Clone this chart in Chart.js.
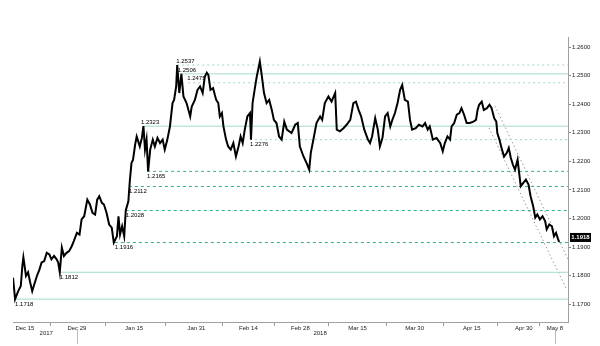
<!DOCTYPE html>
<html>
<head>
<meta charset="utf-8">
<script src="https://cdn.jsdelivr.net/npm/chart.js@4.4.1/dist/chart.umd.min.js"></script>
<style>
    html, body { margin: 0; padding: 0; background: #fff; }
    #wrap { width: 600px; height: 346px; }
</style>
</head>
<body>
<div id="wrap"><canvas id="fxChart"></canvas></div>
<script>
// x = trading days counted from Dec 13 2017
const days = [
    -0.3, 0.1, 0.7, 1.2, 1.5, 1.7, 2.2, 2.6, 3.0, 3.4, 3.8, 4.3, 4.8, 5.2, 5.7, 6.2, 6.7, 7.1, 7.6, 8.1,
    8.4, 8.7, 9.1, 9.5, 10.0, 10.5, 11.0, 11.4, 12.0, 12.5, 12.9, 13.4, 14.0, 14.5, 15.0, 15.5, 15.9, 16.3, 16.8, 17.2,
    17.7, 18.2, 18.7, 19.1, 19.7, 20.0, 20.3, 20.7, 21.1, 21.4, 21.9, 22.2, 22.5, 22.8, 23.2, 23.5, 23.8, 24.1, 24.5, 24.8,
    25.1, 25.4, 25.7, 26.1, 26.6, 27.0, 27.5, 28.0, 28.5, 28.9, 29.4, 29.9, 30.4, 30.7, 31.1, 31.3, 31.7, 32.1, 32.5, 33.1,
    33.8, 34.1, 34.7, 35.2, 35.7, 36.2, 36.6, 37.0, 37.3, 37.7, 38.2, 38.8, 39.2, 39.5, 39.9, 40.2, 40.7, 41.1, 41.6, 42.1,
    42.6, 43.1, 43.5, 43.9, 44.3, 44.8, 45.3, 45.5, 45.8, 46.3, 46.6, 47.0, 47.2, 47.6, 48.0, 48.5, 49.0, 49.5, 49.9, 50.4,
    50.9, 51.4, 51.9, 52.4, 53.3, 54.0, 54.5, 54.9, 55.6, 56.2, 56.7, 57.0, 57.5, 58.1, 58.8, 59.2, 59.7, 60.4, 61.0, 61.7,
    62.0, 62.6, 63.3, 63.9, 64.6, 65.2, 65.7, 66.2, 66.7, 67.3, 68.0, 68.4, 68.8, 69.4, 69.9, 70.3, 70.8, 71.3, 71.8, 72.3,
    72.7, 73.2, 73.7, 74.2, 74.6, 75.1, 75.7, 76.1, 76.5, 77.2, 77.8, 78.5, 79.0, 79.5, 79.9, 80.5, 81.2, 81.9, 82.4, 82.8,
    83.3, 83.8, 84.1, 84.6, 85.1, 85.6, 86.0, 86.5, 87.0, 87.6, 88.3, 88.8, 89.1, 89.4, 89.9, 90.3, 90.9, 91.4, 91.8, 92.3,
    92.7, 92.9, 93.3, 93.8, 94.2, 94.7, 95.1, 95.5, 95.9, 96.3, 96.8, 97.1, 97.4, 97.9, 98.4, 98.9, 99.3, 99.8, 100.2, 100.6,
    101.1, 101.6, 102.1, 102.4, 102.9, 103.4, 103.8, 104.2, 104.6, 104.8
];
const closes = [
    1.1793, 1.1718, 1.1746, 1.1764, 1.1834, 1.1864, 1.1799, 1.1812, 1.1777, 1.1746, 1.1770, 1.1799, 1.1822, 1.1846, 1.1851, 1.1880, 1.1874, 1.1857, 1.1869, 1.1857,
    1.1846, 1.1812, 1.1898, 1.1869, 1.1880, 1.1886, 1.1903, 1.1921, 1.1950, 1.1944, 1.1997, 1.2008, 1.2066, 1.2049, 1.2020, 1.2014, 1.2066, 1.2078, 1.2055, 1.2049,
    1.2020, 1.1979, 1.1968, 1.1916, 1.1938, 1.2008, 1.1944, 1.1973, 1.1938, 1.2028, 1.2060, 1.2136, 1.2194, 1.2206, 1.2258, 1.2287, 1.2270, 1.2252, 1.2282, 1.2323,
    1.2241, 1.2276, 1.2165, 1.2241, 1.2276, 1.2252, 1.2282, 1.2264, 1.2276, 1.2241, 1.2276, 1.2322, 1.2404, 1.2415, 1.2462, 1.2537, 1.2439, 1.2506, 1.2427, 1.2404,
    1.2357, 1.2392, 1.2415, 1.2450, 1.2462, 1.2439, 1.2496, 1.2510, 1.2502, 1.2450, 1.2456, 1.2415, 1.2404, 1.2357, 1.2369, 1.2322, 1.2276, 1.2252, 1.2241, 1.2264,
    1.2217, 1.2252, 1.2287, 1.2264, 1.2311, 1.2357, 1.2369, 1.2276, 1.2404, 1.2462, 1.2496, 1.2531, 1.2549, 1.2496, 1.2439, 1.2404, 1.2415, 1.2380, 1.2345, 1.2334,
    1.2287, 1.2276, 1.2339, 1.2311, 1.2299, 1.2328, 1.2334, 1.2252, 1.2217, 1.2194, 1.2171, 1.2229, 1.2276, 1.2334, 1.2357, 1.2345, 1.2404, 1.2427, 1.2409, 1.2439,
    1.2311, 1.2305, 1.2316, 1.2328, 1.2345, 1.2404, 1.2409, 1.2380, 1.2357, 1.2311, 1.2276, 1.2264, 1.2287, 1.2351, 1.2311, 1.2252, 1.2282, 1.2357, 1.2369, 1.2322,
    1.2345, 1.2369, 1.2404, 1.2450, 1.2467, 1.2415, 1.2409, 1.2345, 1.2311, 1.2316, 1.2328, 1.2322, 1.2334, 1.2311, 1.2322, 1.2276, 1.2282, 1.2264, 1.2235, 1.2264,
    1.2287, 1.2276, 1.2322, 1.2334, 1.2363, 1.2369, 1.2386, 1.2363, 1.2334, 1.2334, 1.2339, 1.2345, 1.2380, 1.2398, 1.2409, 1.2380, 1.2386, 1.2398, 1.2386, 1.2351,
    1.2339, 1.2299, 1.2276, 1.2241, 1.2217, 1.2229, 1.2247, 1.2212, 1.2188, 1.2171, 1.2206, 1.2160, 1.2113, 1.2125, 1.2136, 1.2119, 1.2078, 1.2043, 1.2003, 1.2014,
    1.1997, 1.2008, 1.1991, 1.1962, 1.1979, 1.1973, 1.1938, 1.1950, 1.1927, 1.1918
];

const dateTicks = [2, 12, 23, 35, 45, 55, 66, 77, 88, 98, 104];
const dateLabels = ['Dec 15', 'Dec 29', 'Jan 15', 'Jan 31', 'Feb 14', 'Feb 28', 'Mar 15', 'Mar 30', 'Apr 15', 'Apr 30', 'May 8'];
const yearLabels = ['2017', '2018'];
const yearCenters = [6.1, 58.8];
const yearMarks = [12, 104];

const priceTicks = [1.17, 1.18, 1.19, 1.20, 1.21, 1.22, 1.23, 1.24, 1.25, 1.26];

// support / resistance levels and the day each one starts
const levelValues = [1.2537, 1.2506, 1.2475, 1.2323, 1.2276, 1.2165, 1.2112, 1.2028, 1.1916, 1.1812, 1.1718];
const levelStart = [31.3, 31.6, 33.4, 24.5, 45.3, 25.5, 22.0, 21.4, 19.3, 8.7, 0.1];

// falling channel
const trendFromDay = [91.3, 92.45];
const trendFromVal = [1.2317, 1.2394];
const trendToDay = [106.3, 106.5];
const trendToVal = [1.1749, 1.1857];

const X_MIN = -0.3, X_MAX = 106.5;
const lastPrice = closes[closes.length - 1];

const levelKind = ['light', 'solid', 'light', 'solid', 'light', 'dash', 'dash', 'dash', 'dash', 'solid', 'solid'];
const levelAbove = [true, true, true, true, false, false, false, false, false, false, false];
const kindStyle = {
    light: { color: '#9fd9c6', dash: [2, 3] },
    dash: { color: '#2fb487', dash: [3, 3] },
    solid: { color: '#a3dcc8', dash: [] }
};

const FONT = 'Liberation Sans';

const datasets = [{
    data: days.map((d, i) => ({ x: d, y: closes[i] })),
    borderColor: '#000',
    borderWidth: 2,
    pointRadius: 0,
    tension: 0
}];

levelValues.forEach((v, i) => {
    const st = kindStyle[levelKind[i]];
    datasets.push({
        data: [{ x: levelStart[i], y: v }, { x: X_MAX, y: v }],
        borderColor: st.color,
        borderDash: st.dash,
        borderWidth: 1,
        pointRadius: 0
    });
});

trendFromDay.forEach((d, i) => {
    datasets.push({
        data: [{ x: d, y: trendFromVal[i] }, { x: trendToDay[i], y: trendToVal[i] }],
        borderColor: '#9a9a9a',
        borderDash: [1.5, 2.5],
        borderWidth: 1,
        pointRadius: 0
    });
});

const midTicks = [];
for (let i = 0; i < dateTicks.length - 1; i++) {
    midTicks.push((dateTicks[i] + dateTicks[i + 1]) / 2);
}

const annotations = {
    id: 'annotations',
    afterDatasetsDraw(chart) {
        const ctx = chart.ctx;
        const xs = chart.scales.x;
        const ys = chart.scales.y;
        ctx.save();
        ctx.font = '6px "' + FONT + '"';
        ctx.fillStyle = '#000';
        ctx.textAlign = 'left';
        levelValues.forEach((v, i) => {
            const px = xs.getPixelForValue(levelStart[i]);
            const py = ys.getPixelForValue(v);
            if (levelAbove[i]) {
                ctx.textBaseline = 'bottom';
                ctx.fillText(v.toFixed(4), px - 1, py - 1);
            } else {
                ctx.textBaseline = 'top';
                ctx.fillText(v.toFixed(4), px, py + 2);
            }
        });

        // year row
        ctx.fillStyle = '#222';
        ctx.textAlign = 'center';
        ctx.textBaseline = 'middle';
        yearLabels.forEach((t, i) => {
            ctx.fillText(t, xs.getPixelForValue(yearCenters[i]), 333);
        });
        ctx.strokeStyle = '#bbb';
        ctx.lineWidth = 1;
        yearMarks.forEach(d => {
            const px = Math.round(xs.getPixelForValue(d)) + 0.5;
            ctx.beginPath();
            ctx.moveTo(px, 329);
            ctx.lineTo(px, 344);
            ctx.stroke();
        });

        // last price tag
        const ly = ys.getPixelForValue(lastPrice);
        ctx.fillStyle = '#000';
        ctx.fillRect(xs.right + 2, ly - 9, 21, 9);
        ctx.fillStyle = '#fff';
        ctx.font = 'bold 6px "' + FONT + '"';
        ctx.textAlign = 'center';
        ctx.fillText(lastPrice.toFixed(4), xs.right + 12.5, ly - 4.5);
        ctx.restore();
    }
};

new Chart(document.getElementById('fxChart'), {
    type: 'line',
    data: { datasets: datasets },
    options: {
        responsive: true,
        maintainAspectRatio: false,
        animation: false,
        devicePixelRatio: 1,
        layout: { padding: { left: 13, top: 37, right: 0, bottom: 0 } },
        plugins: { legend: { display: false }, tooltip: { enabled: false } },
        scales: {
            x: {
                type: 'linear',
                position: 'bottom',
                min: X_MIN,
                max: X_MAX,
                afterBuildTicks(scale) {
                    scale.ticks = dateTicks.concat(midTicks).sort((a, b) => a - b).map(v => ({ value: v }));
                },
                afterFit(scale) { scale.height = 24; },
                ticks: {
                    autoSkip: false,
                    maxRotation: 0,
                    padding: -1,
                    color: '#222',
                    font: { family: FONT, size: 6 },
                    callback(v) {
                        const k = dateTicks.indexOf(v);
                        return k >= 0 ? dateLabels[k] : '';
                    }
                },
                grid: {
                    drawOnChartArea: false,
                    tickLength: 4,
                    color: c => (c.tick && dateTicks.indexOf(c.tick.value) >= 0) ? 'rgba(0,0,0,0)' : '#999'
                },
                border: { color: '#a0a0a0' }
            },
            y: {
                type: 'linear',
                position: 'right',
                min: 1.1638,
                max: 1.2635,
                afterBuildTicks(scale) {
                    scale.ticks = priceTicks.map(v => ({ value: v }));
                },
                afterFit(scale) { scale.width = 32; },
                ticks: {
                    padding: 1,
                    color: '#222',
                    font: { family: FONT, size: 6 },
                    callback: v => v.toFixed(4)
                },
                grid: {
                    drawOnChartArea: false,
                    tickLength: 3,
                    color: '#888'
                },
                border: { color: '#a0a0a0' }
            }
        }
    },
    plugins: [annotations]
});
</script>
</body>
</html>
